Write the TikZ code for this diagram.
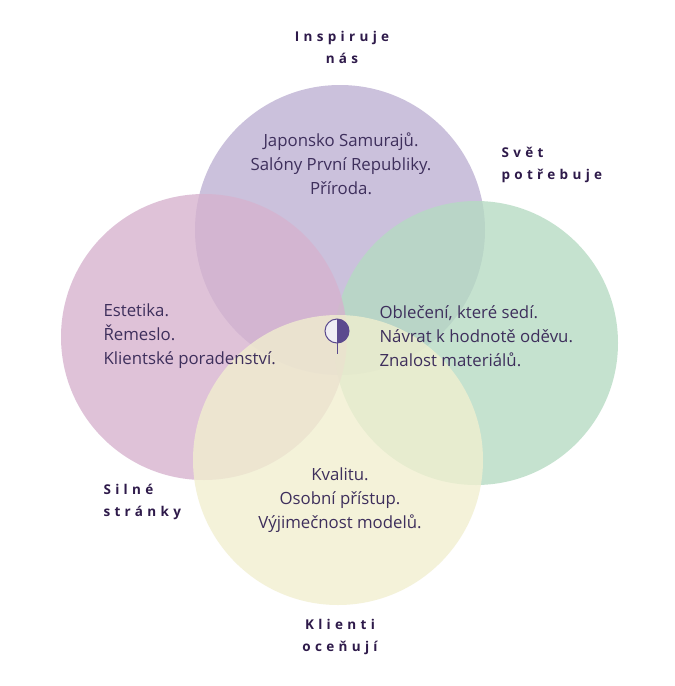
\documentclass[tikz,border=0pt]{standalone}
\usepackage{fontspec}
\setmainfont{Open Sans}
\definecolor{txt}{HTML}{3E2F5C}
\definecolor{lab}{HTML}{2E1A4A}
\definecolor{ctop}{HTML}{BDB0D3}
\definecolor{cright}{HTML}{B5DBC2}
\definecolor{cleft}{HTML}{D6B2CE}
\definecolor{cbot}{HTML}{F1EFCF}
\definecolor{icon}{HTML}{5B4A8E}
\begin{document}
\begin{tikzpicture}[x=1pt,y=-1pt,
  circ/.style={circle,draw=none,fill opacity=0.78},
  body/.style={text=txt,font=\fontsize{16.8}{24}\selectfont,align=#1},
  lbl/.style={text=lab,font=\bfseries\fontsize{13.5}{22}\selectfont,align=center}]
\useasboundingbox[fill=white] (0,0) rectangle (675,686);
\fill[ctop,circ] (340,230) circle (145);
\fill[cright,circ] (476,343) circle (142);
\fill[cleft,circ] (204,337) circle (143);
\fill[cbot,circ] (338,460) circle (145);
\node[body=center] (t) at (341,164) {Japonsko Samurajů.\\Salóny První Republiky.\\Příroda.};
\node[body=left,anchor=west] (l) at (100,336) {Estetika.\\Řemeslo.\\Klientské poradenství.};
\node[body=left,anchor=west] (r) at (376,336) {Oblečení, které sedí.\\Návrat k hodnotě oděvu.\\Znalost materiálů.};
\node[body=center] (b) at (340,500) {Kvalitu.\\Osobní přístup.\\Výjimečnost modelů.};
\node[lbl] (lt) at (342,47) {\addfontfeature{LetterSpace=32}Inspiruje\\\addfontfeature{LetterSpace=32}nás};
\node[lbl,align=left,anchor=west] (lr) at (498,165) {\addfontfeature{LetterSpace=32}Svět\\\addfontfeature{LetterSpace=32}potřebuje};
\node[lbl,align=left,anchor=west] (ll) at (100,502) {\addfontfeature{LetterSpace=32}Silné\\\addfontfeature{LetterSpace=32}stránky};
\node[lbl] (lb) at (340,637) {\addfontfeature{LetterSpace=32}Klienti\\\addfontfeature{LetterSpace=32}oceňují};
\coordinate (ic) at (337,331);
\draw[icon,line width=1pt] (ic) ++(0,12) -- ++(0,11);
\fill[white!90!icon] (337,319) arc[start angle=90,end angle=270,radius=12pt] -- cycle;
\fill[icon] (337,319) arc[start angle=90,end angle=-90,radius=12pt] -- cycle;
\draw[icon,line width=1pt] (ic) circle[radius=12pt];
\end{tikzpicture}
\end{document}
